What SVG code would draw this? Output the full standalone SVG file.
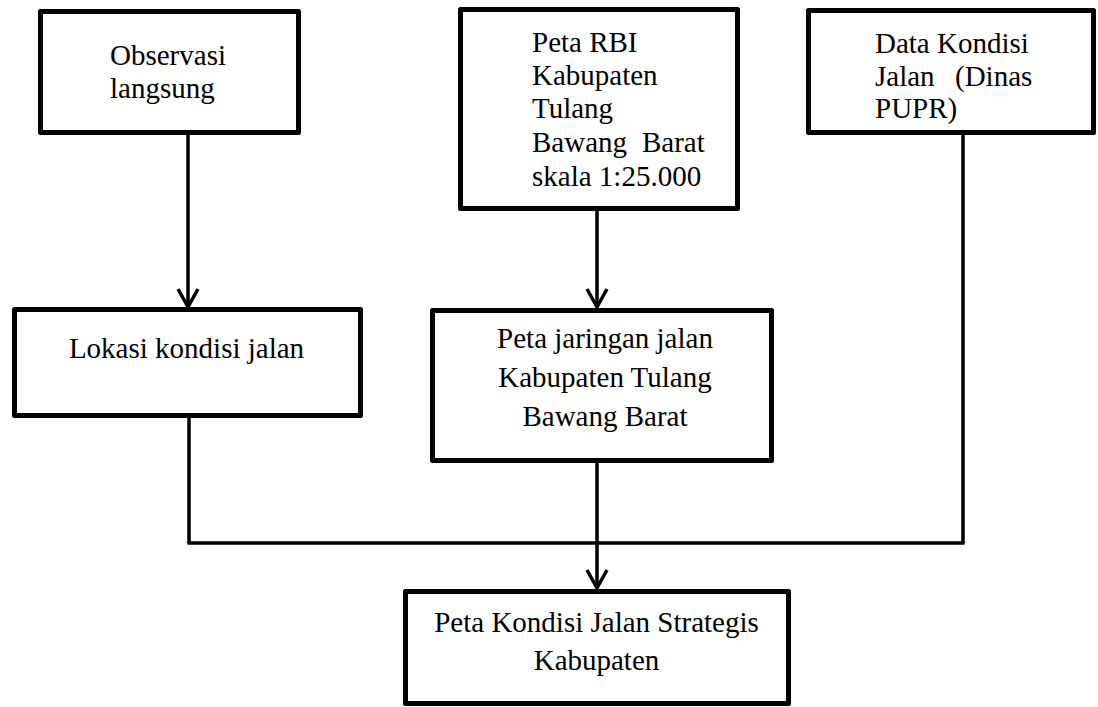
<svg xmlns="http://www.w3.org/2000/svg" width="1098" height="707" viewBox="0 0 1098 707">
<style>
.box{fill:#fff;stroke:#000;stroke-width:5;stroke-linejoin:round}
.t{font-family:"Liberation Serif","Times New Roman",serif;font-size:29px;fill:#000}
.c{text-anchor:middle}
.ln{fill:none;stroke:#000;stroke-width:3.5}
</style>
<defs>
<marker id="arr" markerUnits="userSpaceOnUse" viewBox="-2 -2 24 24" refX="18" refY="10" markerWidth="24" markerHeight="24" orient="auto" overflow="visible">
<path d="M0,0 L18,10 L0,20" fill="none" stroke="#000" stroke-width="3.5"/>
</marker>
</defs>
<rect width="1098" height="707" fill="#fff"/>
<g id="connectors">
<line class="ln" x1="188" y1="135" x2="188" y2="307" marker-end="url(#arr)"/>
<line class="ln" x1="597" y1="211" x2="597" y2="307" marker-end="url(#arr)"/>
<line class="ln" x1="189" y1="418" x2="189" y2="543"/>
<line class="ln" x1="963" y1="133" x2="963" y2="543"/>
<line class="ln" x1="187.5" y1="543" x2="964.5" y2="543"/>
<line class="ln" x1="597" y1="463" x2="597" y2="588" marker-end="url(#arr)"/>
</g>
<g id="observasi">
<rect class="box" x="40.5" y="11.5" width="258" height="121"/>
<text class="t" x="110" y="65">Observasi</text>
<text class="t" x="110" y="98">langsung</text>
</g>
<g id="peta-rbi">
<rect class="box" x="460.5" y="9.5" width="277" height="199"/>
<text class="t" x="532" y="52">Peta RBI</text>
<text class="t" x="532" y="85">Kabupaten</text>
<text class="t" x="532" y="118">Tulang</text>
<text class="t" y="152"><tspan x="532">Bawang</tspan><tspan x="642">Barat</tspan></text>
<text class="t" x="532" y="186">skala 1:25.000</text>
</g>
<g id="data-kondisi">
<rect class="box" x="808.5" y="10.5" width="285" height="122"/>
<text class="t" x="875" y="53">Data Kondisi</text>
<text class="t" y="86"><tspan x="875">Jalan</tspan><tspan x="955">(Dinas</tspan></text>
<text class="t" x="875" y="118">PUPR)</text>
</g>
<g id="lokasi">
<rect class="box" x="14.5" y="309.5" width="346" height="106"/>
<text class="t c" x="186.5" y="358">Lokasi kondisi jalan</text>
</g>
<g id="peta-jaringan">
<rect class="box" x="432.5" y="310.5" width="339" height="150"/>
<text class="t c" x="605" y="348">Peta jaringan jalan</text>
<text class="t c" x="605" y="387">Kabupaten Tulang</text>
<text class="t c" x="605" y="426">Bawang Barat</text>
</g>
<g id="peta-kondisi">
<rect class="box" x="405.5" y="591.5" width="383" height="112"/>
<text class="t c" x="596.5" y="632">Peta Kondisi Jalan Strategis</text>
<text class="t c" x="596.5" y="670">Kabupaten</text>
</g>
</svg>
